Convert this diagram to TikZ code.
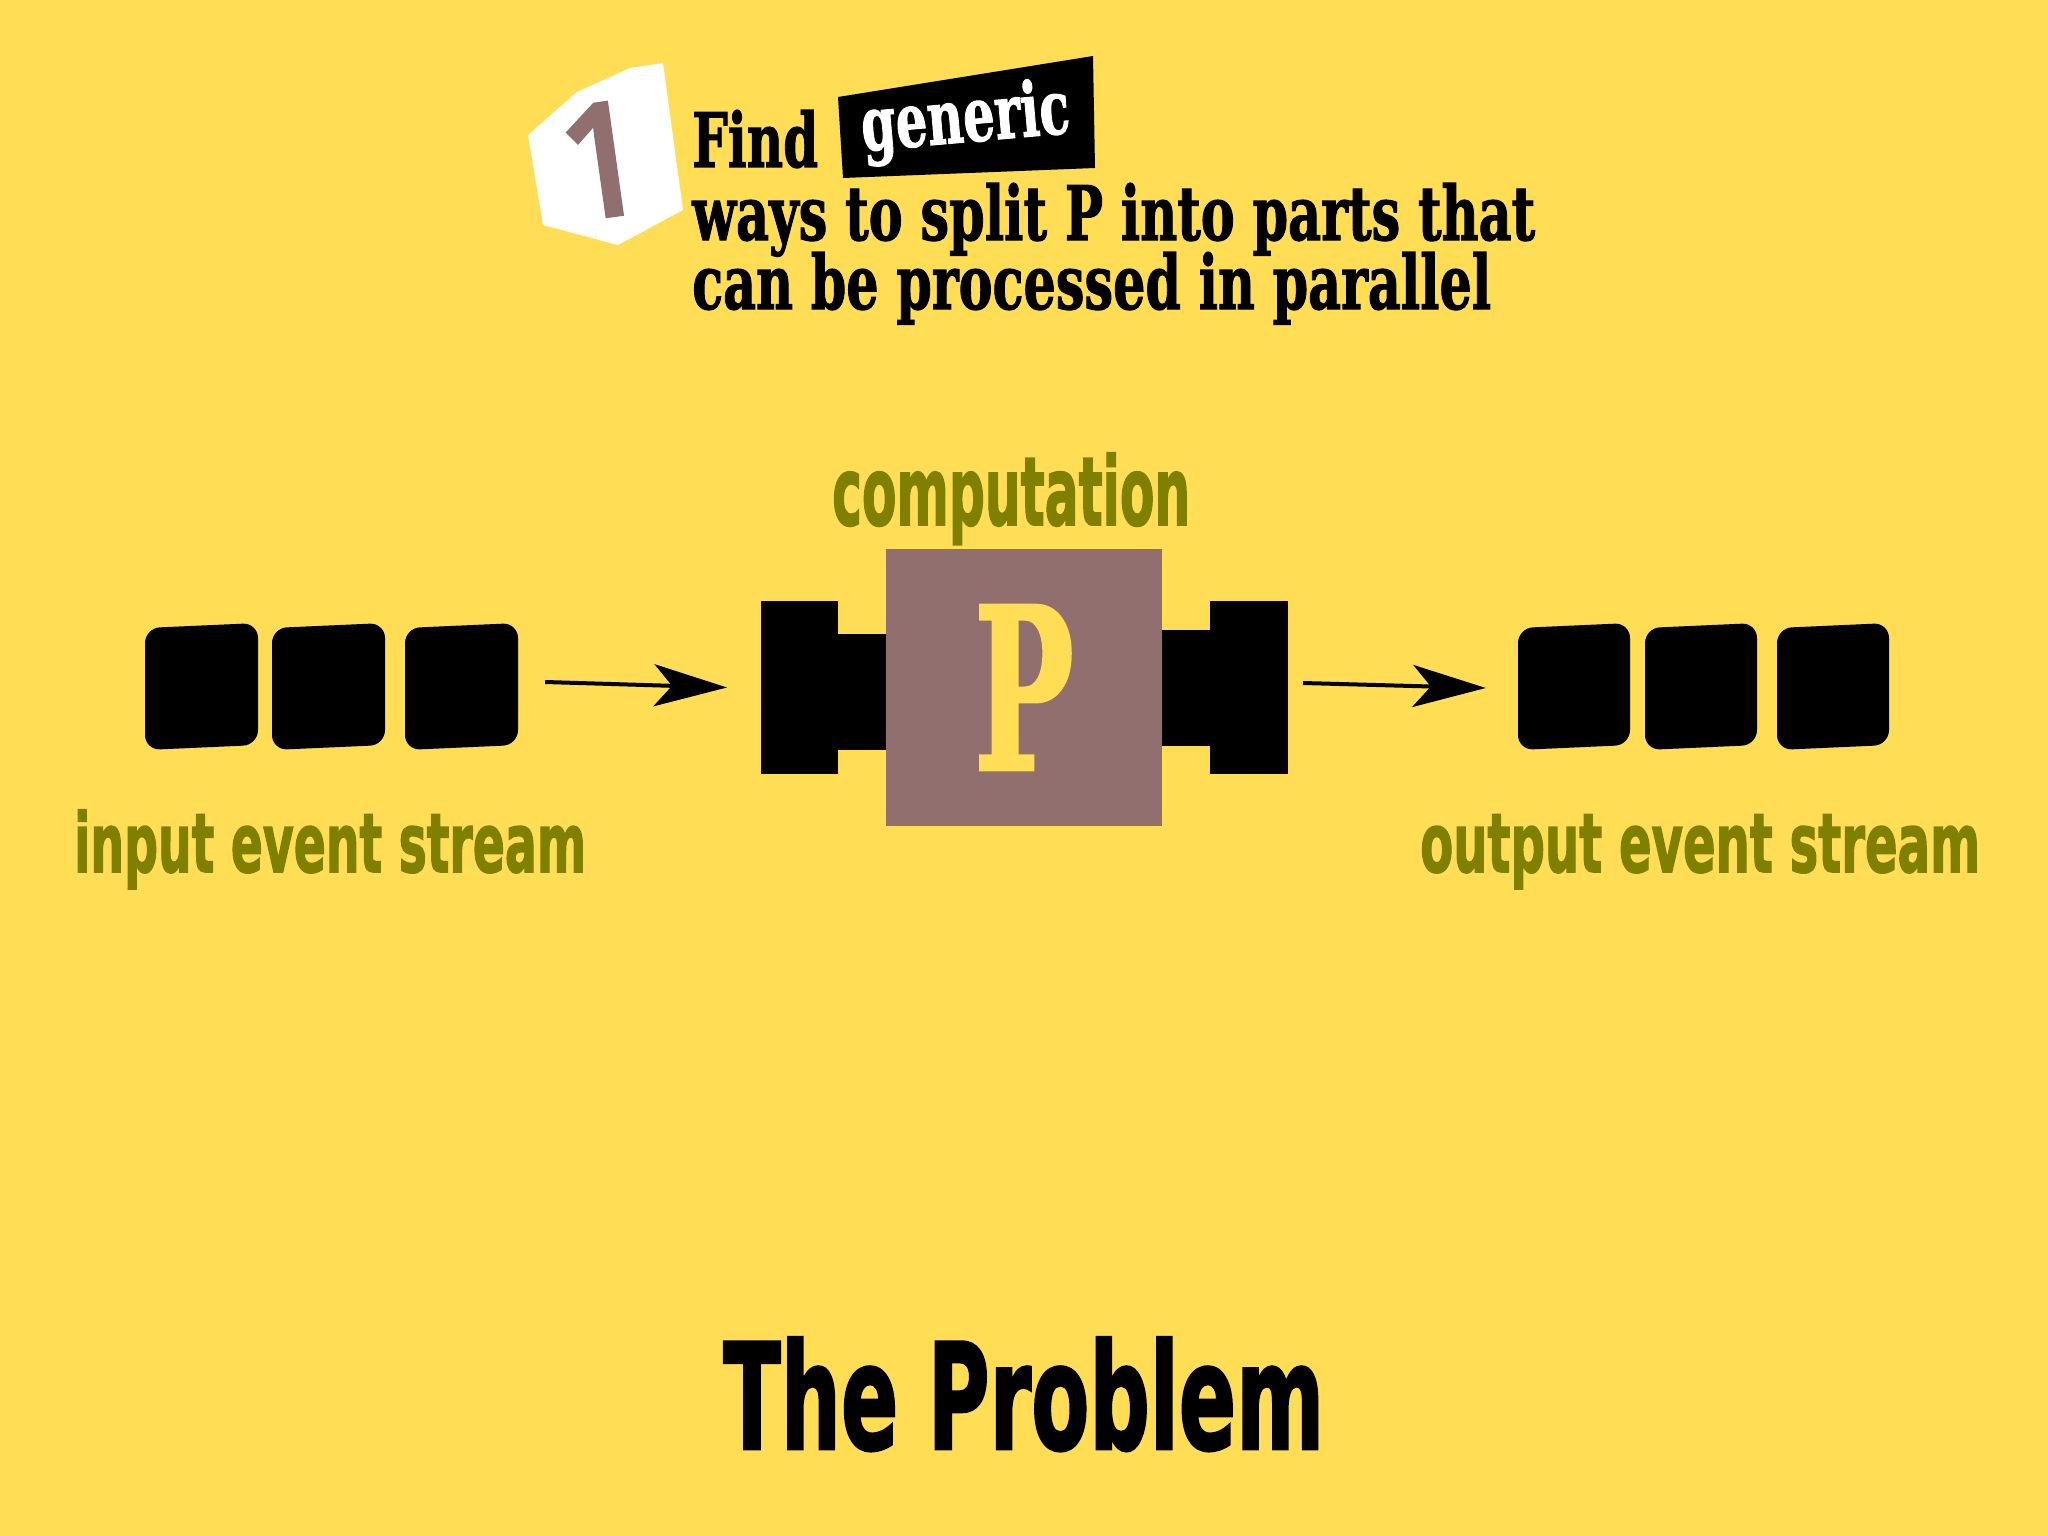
\documentclass[tikz,border=0pt]{standalone}
\usepackage{fontspec}
\usepackage{graphicx}
\usetikzlibrary{arrows.meta}
\setmainfont{DejaVu Serif}
\newfontfamily\serifb{DejaVu Serif}[BoldFeatures={FakeBold=1.6}]
\newfontfamily\sansb{DejaVu Sans}[BoldFeatures={FakeBold=2}]
\newfontfamily\digitfont{Noto Sans}[FakeBold=4]
\definecolor{bg}{HTML}{FFDD55}
\definecolor{olivetxt}{HTML}{808000}
\definecolor{mauve}{HTML}{916F6F}
\begin{document}
\begin{tikzpicture}[x=1pt,y=-1pt,
  head/.style={font=\serifb\bfseries\fontsize{75}{75}\selectfont, anchor=base west, inner sep=0pt},
  lbl/.style={font=\sansb\bfseries\fontsize{82}{82}\selectfont, text=olivetxt, anchor=base west, inner sep=0pt},
  evt/.style={fill=black, rounded corners=15pt},
  blk/.style={fill=black, inner sep=0pt, outer sep=0pt},
  pbox/.style={fill=mauve, inner sep=0pt, outer sep=0pt, minimum width=276, minimum height=277, text=bg,
    font=\serifb\bfseries\fontsize{225}{225}\selectfont},
  arr/.style={line width=4pt, -{Stealth[length=73pt,width=42pt,inset=18pt]}},
]
\fill[bg] (0,0) rectangle (2048,1536);
\useasboundingbox (0,0) rectangle (2048,1536);

% badge
\fill[white] (528,135) -- (577,92) -- (630,68) -- (663,63) -- (683,210) -- (618,245) -- (543,225) -- cycle;
\node[inner sep=0pt, rotate=8, text=mauve, font=\digitfont\fontsize{150}{150}\selectfont] (one) at (603,160) {\resizebox{84pt}{110pt}{1}};

% heading
\node[head] (find) at (692,167) {\resizebox{126pt}{\height}{Find}};
\fill[black] (838,97) -- (1093,56) -- (1095,168) -- (843,178) -- cycle;
\node[head, text=white, rotate=5] (generic) at (863,151) {\resizebox{209pt}{\height}{generic}};
\node[head] (line2) at (692,240) {\resizebox{843pt}{\height}{ways to split P into parts that}};
\node[head] (line3) at (692,309) {\resizebox{799pt}{\height}{can be processed in parallel}};

% input events
\foreach \x in {145,272,405}
  \fill[evt] (\x,628) -- (\x+113,623) -- (\x+113,745) -- (\x,750) -- cycle;
\node[inner sep=0pt, minimum width=372, minimum height=127] (instream) at (331,687) {};
\node[lbl] (inlbl) at (74,872) {\resizebox{512pt}{\height}{input event stream}};

% computation
\node[blk, minimum width=77, minimum height=173] (hl) at (799.5,687.5) {};
\fill[black] (838,634) rectangle (886,750);
\fill[black] (1162,630) rectangle (1210,746);
\node[blk, minimum width=78, minimum height=173] (hr) at (1249,687.5) {};
\node[pbox] (proc) at (1024,687.5) {\resizebox{100pt}{164pt}{P}};
\node[lbl, font=\sansb\bfseries\fontsize{95}{95}\selectfont] (comp) at (832,525) {\resizebox{358pt}{\height}{computation}};

% output events
\foreach \x in {1518,1645,1777}
  \fill[evt] (\x,628) -- (\x+112,623) -- (\x+112,745) -- (\x,750) -- cycle;
\node[inner sep=0pt, minimum width=371, minimum height=127] (outstream) at (1703.5,686.5) {};
\node[lbl] (outlbl) at (1420,872) {\resizebox{560pt}{\height}{output event stream}};

% arrows
\draw[arr] ([xshift=28pt,yshift=5pt]instream.east) -- ([xshift=-34pt]hl.west);
\draw[arr] ([xshift=15pt,yshift=4.5pt]hr.east) -- ([xshift=-32pt,yshift=-1.5pt]outstream.west);

% title
\node[inner sep=0pt, anchor=base west, font=\sansb\bfseries\fontsize{147}{147}\selectfont] (title) at (723,1449) {\resizebox{601pt}{\height}{The Problem}};
\end{tikzpicture}
\end{document}
